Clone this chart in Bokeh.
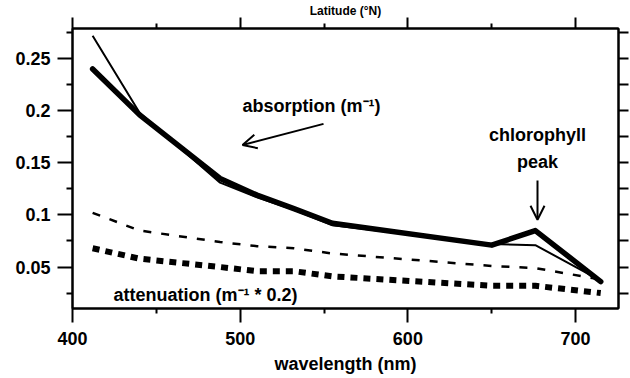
from bokeh.plotting import figure
from bokeh.models import (Range1d, LinearAxis, FixedTicker, CustomJSTickFormatter,
                          Label, Arrow, OpenHead)
from bokeh.embed import file_html
from bokeh.resources import INLINE

# ---- data ----
wavelength = [412, 440, 488, 510, 532, 555, 650, 676, 715]
abs_thick = [0.240, 0.196, 0.135, 0.119, 0.106, 0.092, 0.071, 0.085, 0.036]
abs_thin = [0.272, 0.198, 0.131, 0.117, 0.105, 0.090, 0.072, 0.071, 0.037]
att_thin = [0.102, 0.085, 0.074, 0.070, 0.068, 0.063, 0.051, 0.049, 0.038]
att_thick = [0.068, 0.058, 0.050, 0.046, 0.046, 0.041, 0.032, 0.032, 0.025]

x_major = [400, 500, 600, 700]
x_minor = [450, 550, 650]
y_major = [0.05, 0.1, 0.15, 0.2, 0.25]
y_minor = [0.025, 0.075, 0.125, 0.175, 0.225, 0.275]
right_ticks = [0.025, 0.05, 0.075, 0.1, 0.125, 0.15, 0.175, 0.2, 0.225, 0.25, 0.275]

FONT = "Liberation Sans"
FS = "18px"

p = figure(width=630, height=378, output_backend="svg", toolbar_location=None,
           x_range=Range1d(400, 725.6), y_range=Range1d(0.0102, 0.2789),
           min_border_left=72, min_border_right=12, min_border_top=24, min_border_bottom=70)
p.xgrid.visible = False
p.ygrid.visible = False
p.outline_line_color = "black"
p.outline_line_width = 2
p.background_fill_color = "white"
p.border_fill_color = "white"

def style_axis(ax, major_out, minor_out):
    ax.axis_line_color = "black"
    ax.axis_line_width = 2
    ax.major_tick_line_color = "black"
    ax.major_tick_line_width = 2
    ax.minor_tick_line_color = "black"
    ax.minor_tick_line_width = 2
    ax.major_tick_in = 0
    ax.minor_tick_in = 0
    ax.major_tick_out = major_out
    ax.minor_tick_out = minor_out
    ax.major_label_text_font = FONT
    ax.major_label_text_font_size = FS
    ax.major_label_text_font_style = "bold"
    ax.major_label_text_color = "black"
    ax.axis_label_text_font = FONT
    ax.axis_label_text_font_style = "bold"
    ax.axis_label_text_color = "black"

xa = p.xaxis[0]
xa.ticker = FixedTicker(ticks=x_major, minor_ticks=x_minor)
style_axis(xa, 14, 5)
xa.major_label_standoff = 9
xa.axis_label = "wavelength (nm)"
xa.axis_label_text_font_size = FS
xa.axis_label_standoff = 6

ya = p.yaxis[0]
ya.ticker = FixedTicker(ticks=y_major, minor_ticks=y_minor)
ya.formatter = CustomJSTickFormatter(code="return Number(tick.toFixed(4)).toString();")
style_axis(ya, 15, 6)
ya.major_label_standoff = 7

top = LinearAxis(ticker=FixedTicker(ticks=x_major, minor_ticks=x_minor))
style_axis(top, 11, 5)
top.major_label_text_font_size = "0px"
top.major_label_standoff = 0
top.axis_label = "Latitude (°N)"
top.axis_label_text_font_size = "12px"
top.axis_label_standoff = 0
p.add_layout(top, "above")

right = LinearAxis(ticker=FixedTicker(ticks=right_ticks, minor_ticks=[]))
style_axis(right, 10, 0)
right.major_label_text_font_size = "0px"
right.major_label_standoff = 0
p.add_layout(right, "right")

# ---- series ----
p.line(wavelength, att_thick, line_color="black", line_width=6, line_dash="7 6")
p.line(wavelength, att_thin, line_color="black", line_width=2.5, line_dash="8 10")
p.line(wavelength, abs_thin, line_color="black", line_width=2, line_join="round")
p.line(wavelength, abs_thick, line_color="black", line_width=5.5, line_join="round",
       line_cap="round")

# ---- annotations ----
def lab(x, y, t, align="left"):
    p.add_layout(Label(x=x, y=y, text=t, text_align=align, text_baseline="alphabetic",
                       text_font=FONT, text_font_size=FS, text_font_style="bold",
                       text_color="black"))

lab(501.4, 0.2050, "absorption (m⁻¹)")
lab(677.3, 0.1766, "chlorophyll", "center")
lab(677.3, 0.1510, "peak", "center")
lab(424.5, 0.0235, "attenuation (m⁻¹ * 0.2)")

p.add_layout(Arrow(end=OpenHead(size=14, line_width=2, line_color="black"),
                   x_start=549.7, y_start=0.1874, x_end=501.4, y_end=0.1671,
                   line_width=2, line_color="black"))
p.add_layout(Arrow(end=OpenHead(size=14, line_width=2, line_color="black"),
                   x_start=677.3, y_start=0.133, x_end=677.3, y_end=0.0953,
                   line_width=2, line_color="black"))

open("out.html", "w").write(file_html(p, INLINE))
